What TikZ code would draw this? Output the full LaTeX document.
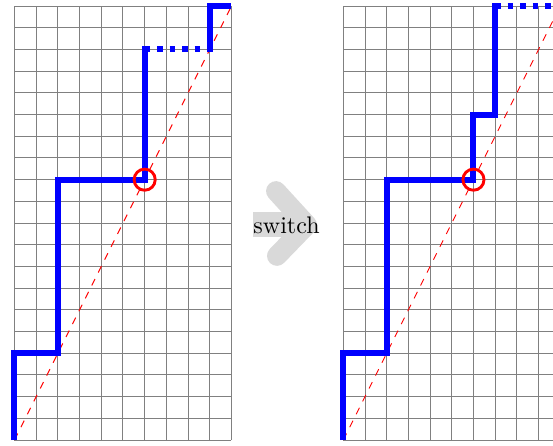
\documentclass[tikz,border=0pt]{standalone}
\tikzset{
  gridln/.style={gray, line width=0.4pt, step=9.04pt},
  diag/.style={red, dashed, line width=0.4pt},
  walk/.style={blue, line width=2.5pt},
  walkdot/.style={blue, line width=2.5pt, dash pattern=on 2.4pt off 2.8pt},
  markcirc/.style={circle, draw=red, line width=1.2pt, minimum size=8.8pt, inner sep=0pt},
  switcharrow/.style={black!15, line width=8.3pt, line cap=round, line join=round}
}
\begin{document}
\begin{tikzpicture}[x=1pt,y=1pt]
\useasboundingbox (0,0) rectangle (230.42,185.42);
\clip (0,0) rectangle (230.42,185.42);
% switch arrow
\fill[black!15] (105.4,86.7) rectangle (124,97.1);
\draw[switcharrow] (115,105.8) -- (127.9,91.7) -- (115.4,78.8);
\node[anchor=base, inner sep=0pt] (sw) at (119.4,88.3) {switch};
% left grid
\begin{scope}[shift={(6.04,2.08)}, x=9.04pt, y=9.04pt]
  \draw[gridln] (0,0) grid (10,20);
  \coordinate (l0) at (0,0);
  \coordinate (l1) at (10,20);
  \draw[diag] (l0) -- (l1);
  \draw[walk] (0,0) -- (0,4) -- (2,4) -- (2,12) -- (6,12) -- (6,18) -- (6.01,18);
  \draw[walkdot] (6,18) -- (9,18);
  \draw[walk] (8.99,18) -- (9,18) -- (9,20) -- (10,20);
  \node[markcirc] (lc) at (6,12) {};
\end{scope}
% right grid
\begin{scope}[shift={(143.04,2.08)}, x=9.04pt, y=9.04pt]
  \draw[gridln] (0,0) grid (10,20);
  \coordinate (r0) at (0,0);
  \coordinate (r1) at (10,20);
  \draw[diag] (r0) -- (r1);
  \draw[walk] (0,0) -- (0,4) -- (2,4) -- (2,12) -- (6,12) -- (6,15) -- (7,15) -- (7,20) -- (7.01,20);
  \draw[walkdot] (7,20) -- (10,20);
  \node[markcirc] (rc) at (6,12) {};
\end{scope}
\end{tikzpicture}
\end{document}
